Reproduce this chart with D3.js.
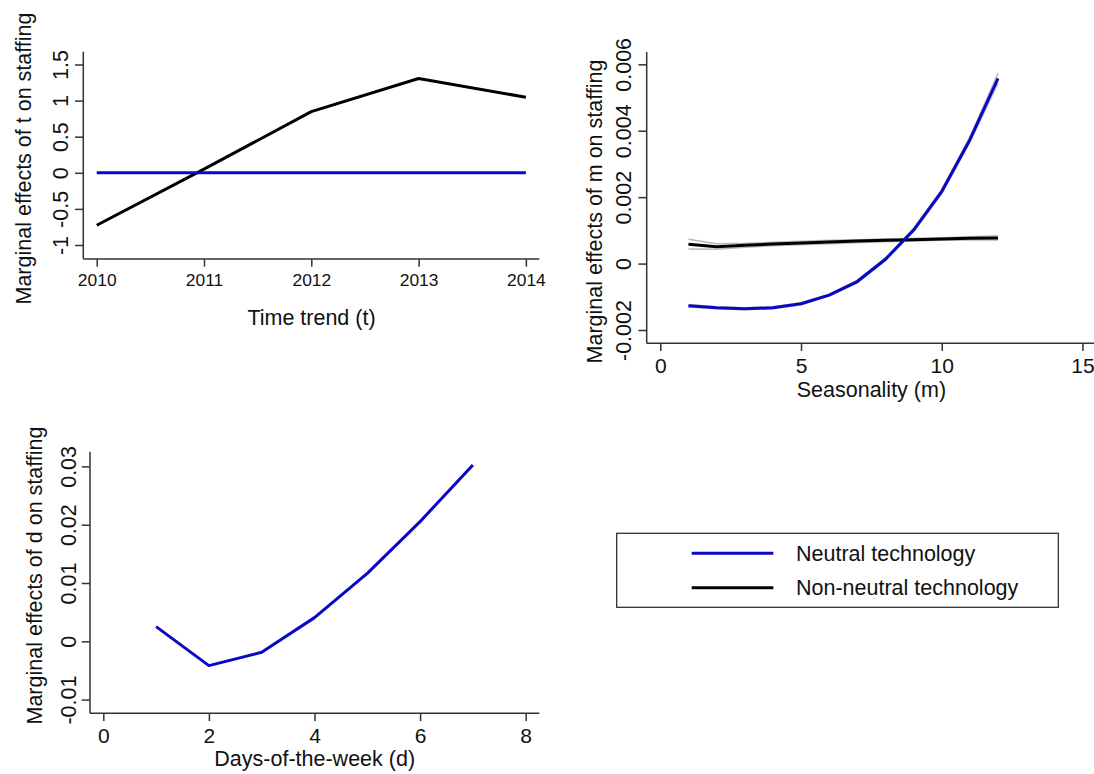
<!DOCTYPE html>
<html>
<head>
<meta charset="utf-8">
<script src="https://cdn.jsdelivr.net/npm/d3@7"></script>
<style>
  html, body { margin: 0; padding: 0; background: #fff; }
  svg text { font-family: "Liberation Sans", Arial, Helvetica, sans-serif; fill: #111; }
</style>
</head>
<body>
<svg id="chart" width="1094" height="774"></svg>
<script>
// ---- Data ----
const years = [2010, 2011, 2012, 2013, 2014];
const tNeutral = [0.0, 0.0, 0.0, 0.0, 0.0];
const tNonNeutral = [-0.727, 0.05, 0.847, 1.306, 1.046];

const months = [1, 2, 3, 4, 5, 6, 7, 8, 9, 10, 11, 12];
const mNeutral = [-0.00127, -0.00133, -0.00136, -0.00133, -0.00121, -0.00095, -0.00054, 0.00013, 0.00101, 0.00217, 0.00373, 0.00558];
const mNeutralUpper = [-0.00123, -0.00130, -0.00133, -0.00130, -0.00118, -0.00092, -0.00050, 0.00017, 0.00106, 0.00223, 0.00381, 0.00573];
const mNeutralLower = [-0.00131, -0.00136, -0.00139, -0.00136, -0.00124, -0.00098, -0.00058, 0.00009, 0.00096, 0.00211, 0.00365, 0.00543];
const mNonNeutral = [0.00058, 0.00051, 0.00055, 0.00059, 0.00062, 0.00065, 0.00068, 0.00070, 0.00072, 0.00074, 0.00076, 0.00077];
const mNonNeutralUpper = [0.00073, 0.00060, 0.00061, 0.00064, 0.00067, 0.00070, 0.00072, 0.00074, 0.00076, 0.00078, 0.00081, 0.00084];
const mNonNeutralLower = [0.00044, 0.00043, 0.00049, 0.00054, 0.00057, 0.00060, 0.00063, 0.00066, 0.00068, 0.00070, 0.00071, 0.00071];

const days = [1, 2, 3, 4, 5, 6, 7];
const dNeutral = [0.00252, -0.00417, -0.00189, 0.00406, 0.01166, 0.02053, 0.03024];

const tXTicks = [2010, 2011, 2012, 2013, 2014];
const tYTicks = [-1, -0.5, 0, 0.5, 1, 1.5];
const tYLabels = ["-1", "-0.5", "0", "0.5", "1", "1.5"];
const mXTicks = [0, 5, 10, 15];
const mYTicks = [-0.002, 0, 0.002, 0.004, 0.006];
const mYLabels = ["-0.002", "0", "0.002", "0.004", "0.006"];
const dXTicks = [0, 2, 4, 6, 8];
const dYTicks = [-0.01, 0, 0.01, 0.02, 0.03];
const dYLabels = ["-0.01", "0", "0.01", "0.02", "0.03"];

const seriesNames = ["Neutral technology", "Non-neutral technology"];
const BLUE = "#0808c4";
const BLACK = "#000";
const AXIS = "#333";
const FONT = 21.5;

const svg = d3.select("#chart");

// Draws one panel: axes with rotated y labels and titles
function panel(cfg) {
  const x = d3.scaleLinear().domain(cfg.xDomain).range([cfg.left, cfg.right]);
  const y = d3.scaleLinear().domain(cfg.yDomain).range([cfg.bottom, cfg.top]);
  const g = svg.append("g");

  const xAxis = d3.axisBottom(x).tickValues(cfg.xTicks).tickSize(7.7).tickSizeOuter(0)
    .tickFormat(d3.format("d"));
  const gx = g.append("g").attr("transform", `translate(0,${cfg.bottom})`).call(xAxis);
  gx.select(".domain").attr("stroke", AXIS).attr("stroke-width", 1.5)
    .attr("d", `M${cfg.left},0H${cfg.right}`);
  gx.selectAll(".tick line").attr("stroke", AXIS).attr("stroke-width", 1.5);
  gx.selectAll(".tick text").attr("font-size", cfg.xTickSize).attr("y", cfg.xTickOffset).attr("dy", 0);

  const yAxis = d3.axisLeft(y).tickValues(cfg.yTicks).tickSize(8.3).tickSizeOuter(0)
    .tickFormat((d, i) => cfg.yLabels[i]);
  const gy = g.append("g").attr("transform", `translate(${cfg.left},0)`).call(yAxis);
  gy.select(".domain").attr("stroke", AXIS).attr("stroke-width", 1.5)
    .attr("d", `M0,${cfg.bottom}V${cfg.top}`);
  gy.selectAll(".tick line").attr("stroke", AXIS).attr("stroke-width", 1.5);
  gy.selectAll(".tick text")
    .attr("font-size", FONT)
    .attr("x", 0).attr("y", 0).attr("dy", 0)
    .attr("text-anchor", "middle")
    .attr("transform", `translate(${-cfg.yTickOffset},0) rotate(-90)`);

  g.append("text")
    .attr("x", cfg.xTitleX).attr("y", cfg.xTitleY)
    .attr("text-anchor", "middle").attr("font-size", FONT)
    .text(cfg.xTitle);
  g.append("text")
    .attr("transform", `translate(${cfg.yTitleX},${cfg.yTitleY}) rotate(-90)`)
    .attr("text-anchor", "middle").attr("font-size", FONT)
    .text(cfg.yTitle);

  return { g, x, y };
}

function drawLine(p, xs, ys, color, width) {
  const line = d3.line().x((d, i) => p.x(xs[i])).y(d => p.y(d));
  p.g.append("path").datum(ys)
    .attr("d", line)
    .attr("fill", "none")
    .attr("stroke", color)
    .attr("stroke-width", width)
    .attr("stroke-linejoin", "round");
}

// ---- Panel 1: time trend ----
const p1 = panel({
  left: 83.3, right: 539.3, top: 51.7, bottom: 259,
  xDomain: [2009.875, 2014.125], yDomain: [-1.194, 1.677],
  xTicks: tXTicks, yTicks: tYTicks, yLabels: tYLabels,
  xTickSize: 17.4, xTickOffset: 26.7, yTickOffset: 15,
  xTitle: "Time trend (t)", xTitleX: 311.5, xTitleY: 325,
  yTitle: "Marginal effects of t on staffing", yTitleX: 30.7, yTitleY: 158.5
});
drawLine(p1, years, tNonNeutral, BLACK, 3);
drawLine(p1, years, tNeutral, BLUE, 3);

// ---- Panel 2: seasonality ----
const p2 = panel({
  left: 646.7, right: 1094, top: 52, bottom: 343.3,
  xDomain: [-0.483, 15.41], yDomain: [-0.0024, 0.006371],
  xTicks: mXTicks, yTicks: mYTicks, yLabels: mYLabels,
  xTickSize: 21, xTickOffset: 30, yTickOffset: 16,
  xTitle: "Seasonality (m)", xTitleX: 871.4, xTitleY: 396.7,
  yTitle: "Marginal effects of m on staffing", yTitleX: 601.5, yTitleY: 211.5
});
drawLine(p2, months, mNonNeutralUpper, "#b8b8b8", 1.5);
drawLine(p2, months, mNonNeutralLower, "#b8b8b8", 1.5);
drawLine(p2, months, mNeutralUpper, "#b8b8b8", 1.5);
drawLine(p2, months, mNeutralLower, "#b8b8b8", 1.5);
drawLine(p2, months, mNonNeutral, BLACK, 3);
drawLine(p2, months, mNeutral, BLUE, 3);

// ---- Panel 3: days of the week ----
const p3 = panel({
  left: 90, right: 539.3, top: 451.7, bottom: 713.3,
  xDomain: [-0.252, 8.258], yDomain: [-0.01235, 0.03252],
  xTicks: dXTicks, yTicks: dYTicks, yLabels: dYLabels,
  xTickSize: 21, xTickOffset: 29.4, yTickOffset: 14.5,
  xTitle: "Days-of-the-week (d)", xTitleX: 314.7, xTitleY: 766,
  yTitle: "Marginal effects of d on staffing", yTitleX: 41.5, yTitleY: 575.5
});
drawLine(p3, days, dNeutral, BLUE, 3);

// ---- Legend ----
const legend = svg.append("g");
legend.append("rect")
  .attr("x", 616.7).attr("y", 533.3).attr("width", 441.6).attr("height", 74)
  .attr("fill", "#fff").attr("stroke", "#222").attr("stroke-width", 1.2);
const legendColors = [BLUE, BLACK];
seriesNames.forEach((name, i) => {
  const yy = 553.3 + i * 34.4;
  legend.append("line")
    .attr("x1", 691.7).attr("x2", 773.3).attr("y1", yy).attr("y2", yy)
    .attr("stroke", legendColors[i]).attr("stroke-width", 3);
  legend.append("text")
    .attr("x", 796).attr("y", yy + 7.5)
    .attr("font-size", FONT)
    .text(name);
});
</script>
</body>
</html>
